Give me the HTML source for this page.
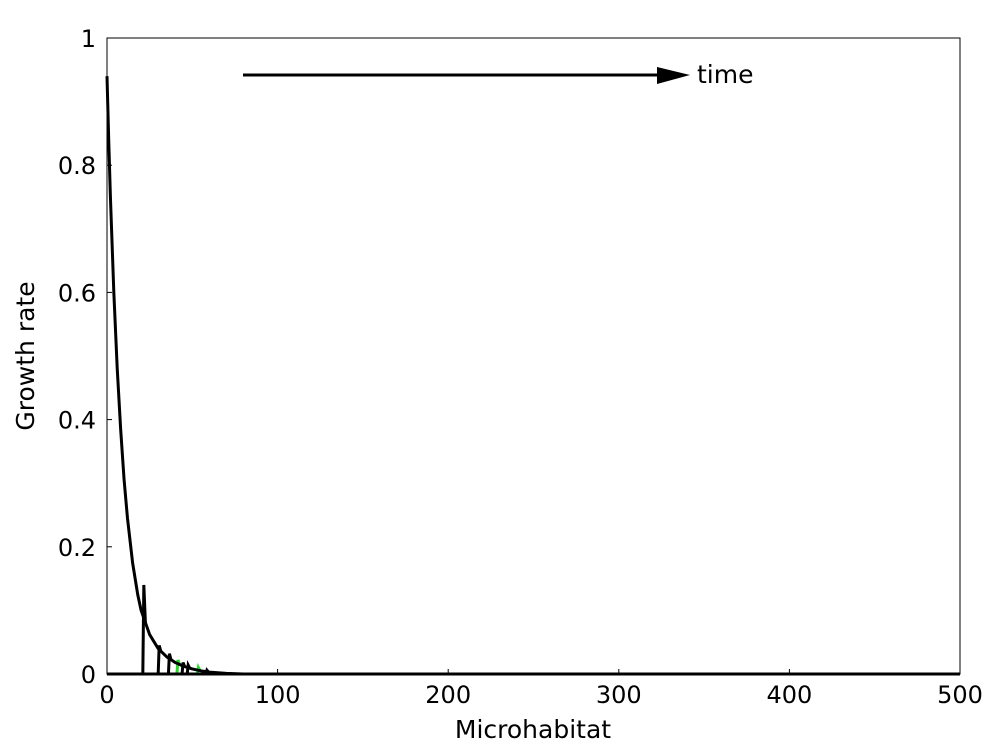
<!DOCTYPE html>
<html><head><meta charset="utf-8"><style>
body{margin:0;background:#fff;}
svg text{font-family:"DejaVu Sans","Liberation Sans",sans-serif;fill:#000;}
</style></head><body>
<svg width="1000" height="750">
<rect x="0" y="0" width="1000" height="750" fill="#fff"/>
<g id="plot"></g>
<rect x="107" y="38" width="853" height="636" fill="none" stroke="#000" stroke-width="1"/>
<line x1="243" y1="75" x2="660" y2="75" stroke="#000" stroke-width="3"/>
<polygon points="657,67 690,75 657,84" fill="#000"/>
<text x="697" y="83" font-size="25">time</text>
<text x="533" y="738" font-size="25" text-anchor="middle">Microhabitat</text>
<text transform="translate(34,356) rotate(-90)" font-size="25" text-anchor="middle">Growth rate</text>
</svg>
<script>
const curveX=[0,1,2,4,6,8,10,12,15,18,20,25,30,35,40,45,50,55,60,70,80,100,500];
const curveY=[0.94,0.84,0.75,0.60,0.48,0.385,0.306,0.245,0.175,0.125,0.100,0.062,0.040,0.027,0.018,0.012,0.008,0.005,0.003,0.001,0,0,0];
const spikeX=[21,30,36,41,44,47,53,58];
const spikePeak=[0.14,0.045,0.032,0.022,0.018,0.014,0.010,0.006];
const spikeGreen=[false,false,false,true,false,false,true,false];
const xTicks=[0,100,200,300,400,500];
const yTicks=[0,0.2,0.4,0.6,0.8,1];
const yTickLabels=["0","0.2","0.4","0.6","0.8","1"];
const ns="http://www.w3.org/2000/svg";
const sx=v=>107+v*(853/500), sy=v=>674-v*636;
const g=document.getElementById('plot');
function mk(t,a){const e=document.createElementNS(ns,t);for(const k in a)e.setAttribute(k,a[k]);g.appendChild(e);return e;}
function interp(x){for(let i=1;i<curveX.length;i++){if(x<=curveX[i]){const t=(x-curveX[i-1])/(curveX[i]-curveX[i-1]);return curveY[i-1]+t*(curveY[i]-curveY[i-1]);}}return 0;}
spikeX.forEach((x,i)=>{
 const p=mk('polyline',{points:`${sx(x)},${sy(0)} ${sx(x)+1},${sy(spikePeak[i])} ${sx(x+1.5)},${sy(interp(x+1.5))}`,fill:'none',stroke:spikeGreen[i]?'#22dd22':'#000','stroke-width':3});
 
 
});
const c=mk('polyline',{points:curveX.map((x,i)=>sx(x)+','+sy(curveY[i])).join(' '),fill:'none',stroke:'#000','stroke-width':3,'stroke-linejoin':'round'});


const base=mk('line',{x1:107,y1:674,x2:960,y2:674,stroke:'#000','stroke-width':3});


xTicks.forEach(v=>{
 const l=mk('line',{x1:sx(v),y1:674,x2:sx(v),y2:669,stroke:'#000'});
 
 
 const t=mk('text',{x:sx(v),y:703,'font-size':24,'text-anchor':'middle'});t.textContent=v;
 
 
});
yTicks.forEach((v,i)=>{
 const l=mk('line',{x1:107,y1:sy(v),x2:112,y2:sy(v),stroke:'#000'});
 
 
 const t=mk('text',{x:96,y:sy(v)+9,'font-size':24,'text-anchor':'end'});t.textContent=yTickLabels[i];
 
 
});
</script>
</body></html>
